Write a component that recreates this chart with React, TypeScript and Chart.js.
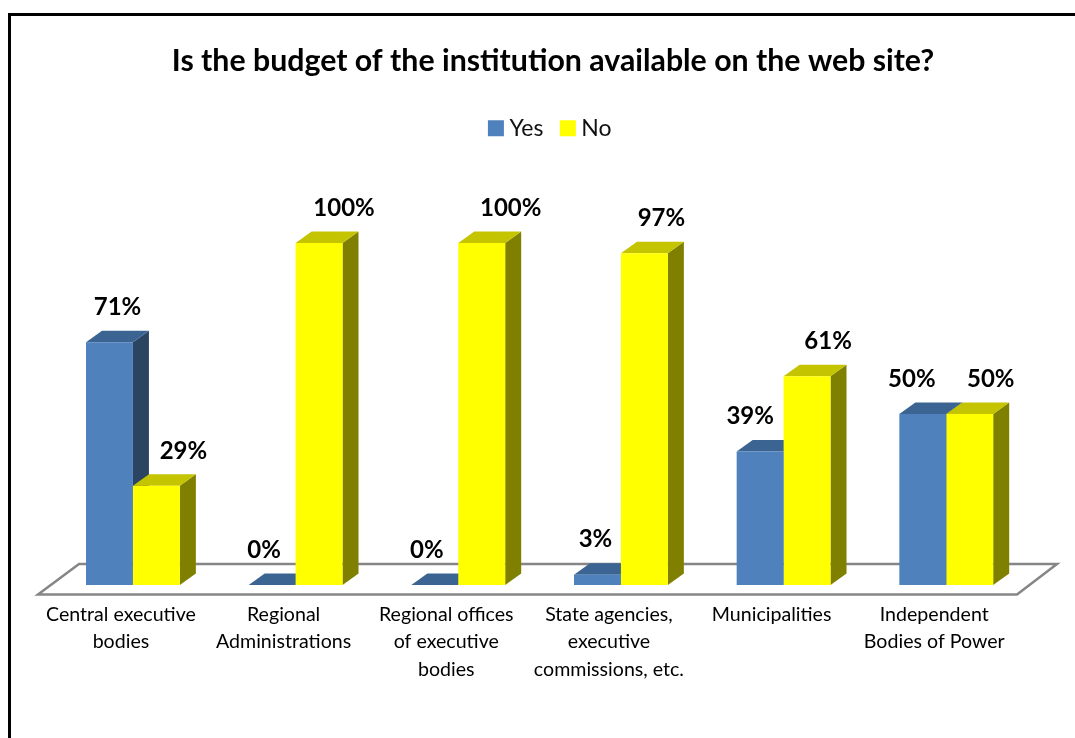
import React, { useEffect, useRef } from "react";
import { Chart, registerables } from "chart.js";

Chart.register(...registerables);

const categories = [
  ["Central executive", "bodies"],
  ["Regional", "Administrations"],
  ["Regional offices", "of executive", "bodies"],
  ["State agencies,", "executive", "commissions, etc."],
  ["Municipalities"],
  ["Independent", "Bodies of Power"],
];
const yesValues = [71, 0, 0, 3, 39, 50];
const noValues = [29, 100, 100, 97, 61, 50];
const chartTitle = "Is the budget of the institution available on the web site?";

const FONT = "Lato, Carlito, sans-serif";
const DEPTH_X = 16;
const DEPTH_Y = 11.5;
const yesFaces = { front: "#4F81BD", top: "#3C6492", side: "#2A4462" };
const noFaces = { front: "#FFFF00", top: "#C4C400", side: "#808000" };
const yesLabelShift = [8, -8, -8, -2, -10, -11];
const noLabelShift = [27, 25, 29, 17, 21, 21];

const threeD = {
  id: "threeD",
  afterLayout(chart: any) {
    const t = chart.titleBlock;
    t.left += 13.4;
    t.right += 13.4;
    const l = chart.legend;
    l.left += 13.15;
    l.right += 13.15;
    const h = l.height;
    l.top = 122 - h / 2;
    l.bottom = l.top + h;
  },
  beforeDatasetsDraw(chart: any) {
    const { ctx, chartArea: a } = chart;
    ctx.save();
    ctx.strokeStyle = "#868686";
    ctx.lineWidth = 2.5;
    ctx.lineJoin = "miter";
    ctx.beginPath();
    ctx.moveTo(a.left - 13.6, a.bottom + 9.5);
    ctx.lineTo(a.right - 10.6, a.bottom + 9.5);
    ctx.lineTo(a.right + 29.4, a.bottom - 21);
    ctx.lineTo(a.left + 27.4, a.bottom - 21);
    ctx.closePath();
    ctx.stroke();
    const face = (pts: number[][], fill: string) => {
      ctx.fillStyle = fill;
      ctx.beginPath();
      pts.forEach((p, i) => (i ? ctx.lineTo(p[0], p[1]) : ctx.moveTo(p[0], p[1])));
      ctx.closePath();
      ctx.fill();
    };
    categories.forEach((_, i) => {
      [0, 1].forEach((d) => {
        const bar = chart.getDatasetMeta(d).data[i];
        const faces = d === 0 ? yesFaces : noFaces;
        const x0 = bar.x - bar.width / 2;
        const x1 = bar.x + bar.width / 2;
        const yt = bar.y;
        const yb = bar.base;
        face(
          [[x1, yt], [x1 + DEPTH_X, yt - DEPTH_Y], [x1 + DEPTH_X, yb - DEPTH_Y], [x1, yb]],
          faces.side
        );
        face(
          [[x0, yt], [x0 + DEPTH_X, yt - DEPTH_Y], [x1 + DEPTH_X, yt - DEPTH_Y], [x1, yt]],
          faces.top
        );
      });
    });
    ctx.restore();
  },
  afterDatasetsDraw(chart: any) {
    const { ctx } = chart;
    ctx.save();
    ctx.fillStyle = "#000";
    ctx.font = `bold 24px ${FONT}`;
    ctx.textAlign = "center";
    ctx.textBaseline = "middle";
    [yesValues, noValues].forEach((vals, d) => {
      const shift = d === 0 ? yesLabelShift : noLabelShift;
      vals.forEach((v, i) => {
        const bar = chart.getDatasetMeta(d).data[i];
        ctx.fillText(`${v}%`, bar.x + shift[i], bar.y - 35);
      });
    });
    ctx.restore();
  },
};

export default function App() {
  const ref = useRef<HTMLCanvasElement>(null);
  useEffect(() => {
    document.body.style.margin = "0";
    const chart = new Chart(ref.current!, {
      type: "bar",
      plugins: [threeD],
      data: {
        labels: categories,
        datasets: [
          { label: "Yes", data: yesValues, backgroundColor: yesFaces.front },
          { label: "No", data: noValues, backgroundColor: noFaces.front },
        ],
      },
      options: {
        responsive: false,
        animation: false,
        layout: { padding: { left: 51.6, right: 47.4, top: 0, bottom: 0 } },
        datasets: { bar: { categoryPercentage: 0.577, barPercentage: 1 } },
        plugins: {
          tooltip: { enabled: false },
          title: {
            display: true,
            text: chartTitle,
            color: "#000",
            font: { family: FONT, size: 30.3, weight: "bold", lineHeight: 1.2 },
            padding: { top: 43, bottom: 108.1 },
          },
          legend: {
            display: true,
            position: "top",
            labels: {
              color: "#111",
              font: { family: FONT, size: 23 },
              usePointStyle: true,
              pointStyle: "rect",
              boxWidth: 4,
              boxHeight: 16,
              padding: 22.5,
            },
          },
        },
        scales: {
          x: {
            grid: { display: false, drawTicks: false },
            border: { display: false },
            ticks: {
              color: "#000",
              font: { family: FONT, size: 19.6, lineHeight: 1.4 },
              padding: 16,
              labelOffset: -12,
              maxRotation: 0,
              minRotation: 0,
              autoSkip: false,
            },
            afterFit(scale: any) {
              scale.height = 153;
            },
          },
          y: { display: false, min: 0, max: 100 },
        },
      },
    } as any);
    return () => chart.destroy();
  }, []);
  return (
    <div style={{ position: "relative", width: 1075, height: 738, overflow: "hidden", background: "#fff" }}>
      <canvas ref={ref} width={1075} height={738} style={{ display: "block", position: "absolute", left: 0, top: 0 }} />
      <div
        style={{
          position: "absolute",
          left: 8,
          top: 13,
          width: 1200,
          height: 900,
          borderLeft: "3px solid #000",
          borderTop: "3px solid #000",
          pointerEvents: "none",
        }}
      />
    </div>
  );
}
